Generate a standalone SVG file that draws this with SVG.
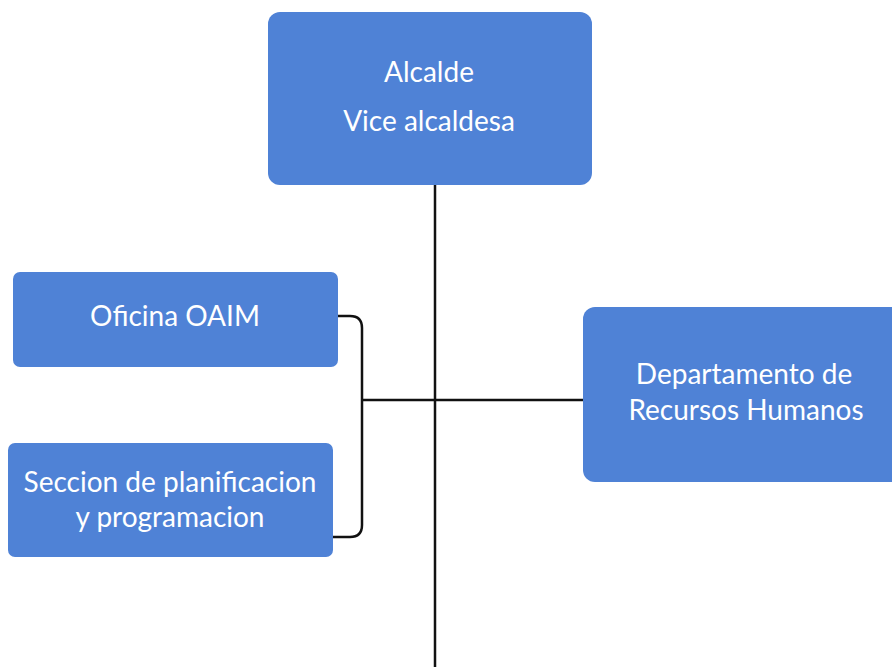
<svg xmlns="http://www.w3.org/2000/svg" width="892" height="667" viewBox="0 0 892 667">
<style>
.box{fill:#4f82d6;}
.t{font-family:Lato,"Open Sans","Liberation Sans",sans-serif;font-size:28px;fill:#ffffff;text-anchor:middle;}
.c{fill:none;stroke:#111111;stroke-width:2.5;}
</style>
<rect width="892" height="667" fill="#ffffff"/>
<g id="connectors">
<line class="c" x1="435" y1="185" x2="435" y2="667"/>
<path class="c" d="M330,316 H350 Q362,316 362,328 V525 Q362,537 350,537 H330"/>
<line class="c" x1="362" y1="400" x2="590" y2="400"/>
</g>
<g id="alcalde">
<rect class="box" x="268" y="12" width="324" height="173" rx="12"/>
<text class="t" x="429" y="82">Alcalde</text>
<text class="t" x="429" y="131">Vice alcaldesa</text>
</g>
<g id="oaim">
<rect class="box" x="13" y="272" width="325" height="95" rx="7"/>
<text class="t" x="175" y="326">Oficina OAIM</text>
</g>
<g id="seccion">
<rect class="box" x="8" y="443" width="325" height="114" rx="7"/>
<text class="t" x="170" y="492">Seccion de planificacion</text>
<text class="t" x="170" y="527">y programacion</text>
</g>
<g id="rrhh">
<rect class="box" x="583" y="307" width="330" height="175" rx="12"/>
<text class="t" x="744" y="384">Departamento de</text>
<text class="t" x="746" y="420">Recursos Humanos</text>
</g>
</svg>
